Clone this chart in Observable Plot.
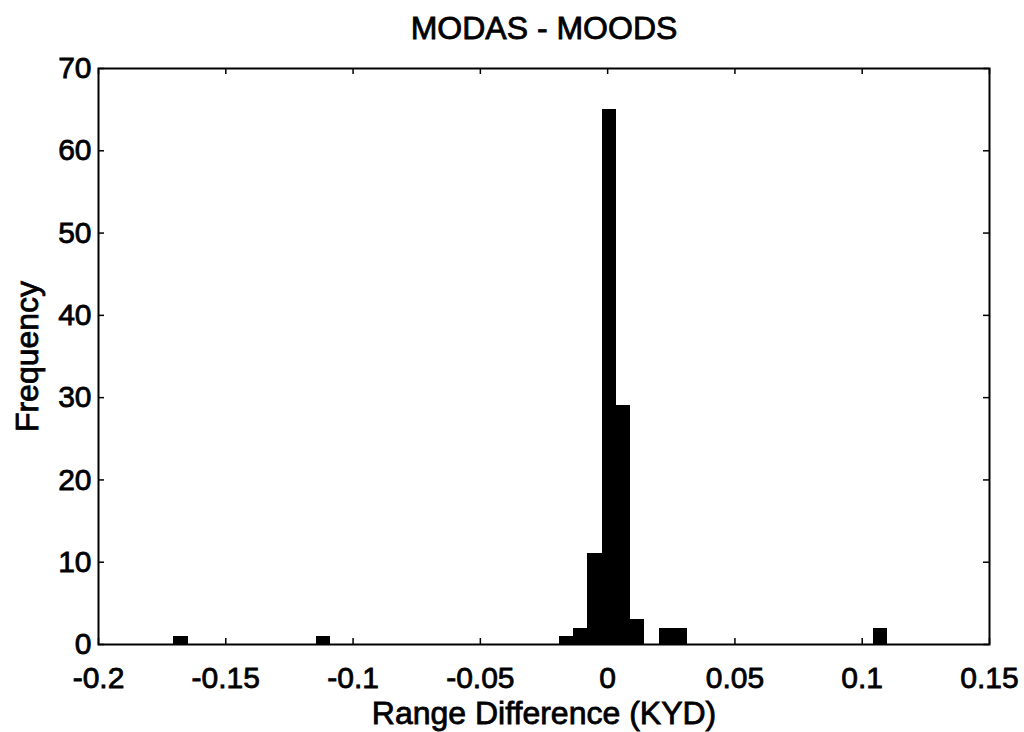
<!DOCTYPE html>
<html><head><meta charset="utf-8">
<script src="https://cdn.jsdelivr.net/npm/d3@7"></script>
<script src="https://cdn.jsdelivr.net/npm/@observablehq/plot@0.6"></script>
<style>body{margin:0;background:#fff} #chart svg text{stroke:#000;stroke-width:0.8px;paint-order:stroke}</style>
</head><body><div id="chart"></div>
<script>
// Histogram bins (centers) and their counts
const binCenters = [-0.1676, -0.1115, -0.0162, -0.0106, -0.0050, 0.0006, 0.0062, 0.0118, 0.0230, 0.0286, 0.1071];
const counts     = [1,       1,       1,       2,       11,      65,     29,     3,      2,      2,      2];
const binWidth = 0.0056;
const xTicks = [-0.2, -0.15, -0.1, -0.05, 0, 0.05, 0.1, 0.15];
const xTickLabels = ["-0.2", "-0.15", "-0.1", "-0.05", "0", "0.05", "0.1", "0.15"];
const yTicks = [0, 10, 20, 30, 40, 50, 60, 70];
const titleText = "MODAS - MOODS";
const xLabel = "Range Difference (KYD)";
const yLabel = "Frequency";

const bars = binCenters.map((c, i) => ({x1: c - binWidth / 2, x2: c + binWidth / 2, y: counts[i]}));
const W = 1024, H = 732, mT = 68, mB = 88, mL = 98, mR = 35;
const plotH = H - mT - mB, plotW = W - mL - mR, tick = 6;
const FS = 30, FL = 32;

const chart = Plot.plot({
  width: W, height: H, marginTop: mT, marginBottom: mB, marginLeft: mL, marginRight: mR,
  style: {fontFamily: "'Liberation Sans', Arial, sans-serif", fontSize: FS + "px", color: "#000", background: "#fff"},
  x: {domain: [-0.2, 0.15]},
  y: {domain: [0, 70]},
  marks: [
    Plot.rectY(bars, {x1: "x1", x2: "x2", y: "y", fill: "#000", inset: 0, shapeRendering: "crispEdges"}),
    Plot.ruleX(xTicks, {insetTop: plotH - tick, stroke: "#000", strokeWidth: 1.5}),
    Plot.ruleX(xTicks, {insetBottom: plotH - tick, stroke: "#000", strokeWidth: 1.5}),
    Plot.ruleY(yTicks, {insetRight: plotW - tick, stroke: "#000", strokeWidth: 1.5}),
    Plot.ruleY(yTicks, {insetLeft: plotW - tick, stroke: "#000", strokeWidth: 1.5}),
    Plot.frame({stroke: "#000", strokeWidth: 2}),
    Plot.axisX(xTicks, {anchor: "bottom", tickSize: 0, tickPadding: 22, fontSize: FS, label: null,
      tickFormat: d => xTickLabels[xTicks.indexOf(d)]}),
    Plot.axisY(yTicks, {anchor: "left", tickSize: 0, tickPadding: 7, fontSize: FS, label: null}),
    Plot.text([titleText], {text: d => d, frameAnchor: "top", lineAnchor: "bottom", dy: -30, fontSize: FL}),
    Plot.text([xLabel], {text: d => d, frameAnchor: "bottom", lineAnchor: "bottom", dy: 79, fontSize: FL}),
    Plot.text([yLabel], {text: d => d, frameAnchor: "left", textAnchor: "middle", lineAnchor: "middle", dx: -71, rotate: -90, fontSize: FL})
  ]
});
document.getElementById("chart").appendChild(chart);
</script>
</body></html>
